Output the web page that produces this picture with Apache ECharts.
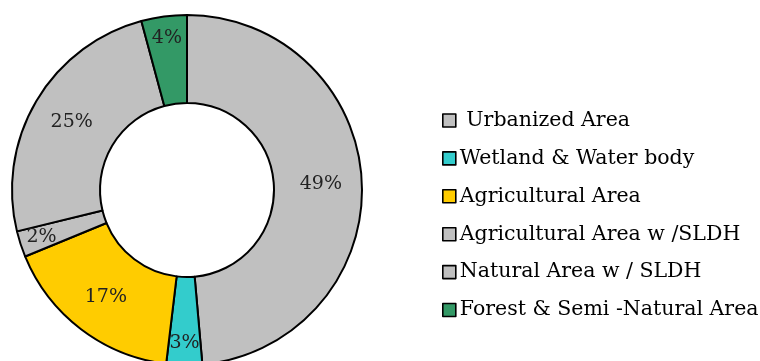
<!DOCTYPE html>
<html><head><meta charset="utf-8">
<script src="https://cdn.jsdelivr.net/npm/echarts@6/dist/echarts.min.js"></script>
<style>html,body{margin:0;padding:0;background:#fff}#c{width:760px;height:361px}</style>
</head><body><div id="c"></div>
<script>
const categories = [' Urbanized Area', 'Wetland & Water body', 'Agricultural Area', 'Agricultural Area w /SLDH', 'Natural Area w / SLDH', 'Forest & Semi -Natural Area'];
const shares = [48.6, 3.3, 16.9, 2.4, 24.6, 4.2];
const colors = ['#C0C0C0', '#33CCCC', '#FFCC00', '#C0C0C0', '#C0C0C0', '#339966'];
const smallLimit = 5;

const font = 'DejaVu Serif';
const total = shares.reduce((a, b) => a + b, 0);
const fmt = p => Math.round(p.value / total * 100) + '%';

const mainData = categories.map((n, i) => ({
  name: n, value: shares[i],
  itemStyle: { color: colors[i] },
  label: { show: shares[i] >= smallLimit }
}));
const outerLabelData = categories.map((n, i) => ({
  name: n, value: shares[i],
  label: { show: shares[i] < smallLimit }
}));

const chart = echarts.init(document.getElementById('c'), null, { renderer: 'canvas' });
chart.setOption({
  animation: false,
  backgroundColor: '#fff',
  legend: {
    orient: 'vertical', left: 437, top: 105,
    itemWidth: 13, itemHeight: 13, itemGap: 16.9,
    icon: 'rect',
    data: categories,
    textStyle: { fontFamily: font, fontSize: 20.5, lineHeight: 20, color: '#000', padding: [0, 0, 0, -1] },
    itemStyle: { borderColor: '#000', borderWidth: 1.6 }
  },
  series: [{
    type: 'pie',
    center: [187, 190], radius: [87, 175],
    startAngle: 90, clockwise: true,
    avoidLabelOverlap: false,
    itemStyle: { borderColor: '#000', borderWidth: 2 },
    label: { position: 'inside', formatter: fmt, fontFamily: font, fontSize: 19, color: '#222' },
    labelLine: { show: false },
    emphasis: { disabled: true },
    data: mainData
  }, {
    type: 'pie',
    center: [187, 190], radius: [125, 175],
    startAngle: 90, clockwise: true,
    avoidLabelOverlap: false,
    silent: true,
    legendHoverLink: false,
    itemStyle: { color: 'rgba(0,0,0,0)', borderWidth: 0 },
    label: { position: 'inside', formatter: fmt, fontFamily: font, fontSize: 19, color: '#222' },
    labelLine: { show: false },
    emphasis: { disabled: true },
    data: outerLabelData
  }]
});
</script></body></html>
